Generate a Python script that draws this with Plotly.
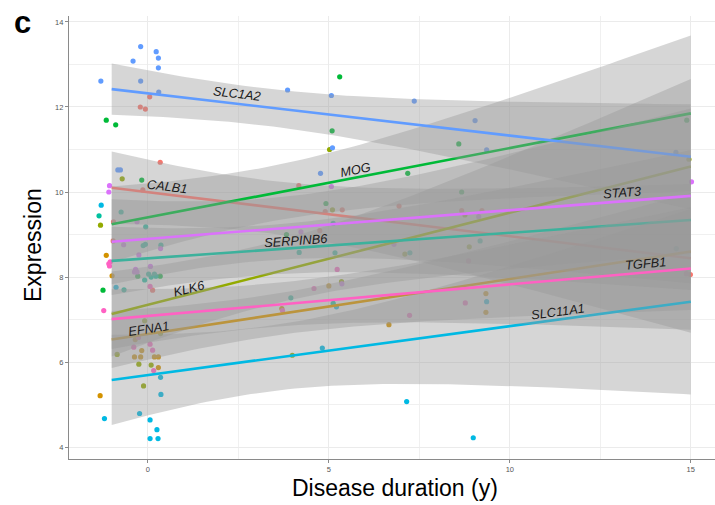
import numpy as np
import plotly.graph_objects as go

# ---------------- data ----------------
genes = ["CALB1", "EFNA1", "KLK6", "MOG", "SERPINB6", "SLC11A1", "SLC1A2", "STAT3", "TGFB1"]
colors = ["#F8766D", "#D39200", "#93AA00", "#00BA38", "#00C19F", "#00B9E3", "#619CFF", "#DB72FB", "#FF61C3"]

calb1_x = [0.05, -0.21, -0.07, 0.34, -0.14, -0.95, -0.96, 0.13, 4.17, 5.37, 4.9, 4.75, 6.94, 8.67, 9.23, 14.99]
calb1_y = [12.24, 12.0, 11.95, 10.70, 10.05, 9.30, 8.85, 7.69, 10.15, 9.58, 9.54, 9.09, 9.67, 9.56, 9.56, 8.06]

efna1_x = [-1.15, -0.99, -0.35, -0.17, -0.37, -0.2, 0.18, 0.29, 0.29, -1.32, 5.0, 3.7, 9.34, 9.34, 6.66]
efna1_y = [8.51, 8.03, 6.53, 6.27, 6.12, 6.12, 6.12, 6.12, 5.87, 5.21, 7.79, 7.26, 7.61, 7.17, 6.88]

klk6_x = [-0.71, -1.31, -0.09, 0.35, -0.85, -0.25, 0.09, -0.12, 5.02, 5.1, 5.35, 3.99, 7.1, 8.88, 8.76, 14.95]
klk6_y = [10.31, 9.22, 6.97, 6.67, 6.18, 5.95, 5.93, 5.44, 11.0, 9.58, 7.89, 6.16, 8.54, 8.71, 9.46, 10.77]

mog_x = [-1.15, -0.89, -0.17, -0.28, 0.34, -1.24, 5.30, 5.09, 4.92, 3.83, 7.18, 8.59, 8.67, 14.89]
mog_y = [11.69, 11.58, 10.28, 8.02, 8.02, 7.69, 12.71, 11.44, 9.73, 9.0, 10.44, 11.13, 10.0, 11.69]

serpinb6_x = [-1.35, -0.74, -0.06, -0.13, -0.07, 0.36, -0.09, 0.02, 0.09, 0.18, 0.22, -0.66,
              4.18, 5.17, 5.12, 3.95, 5.12, 7.24, 9.18, 14.6]
serpinb6_y = [9.44, 9.53, 9.18, 8.74, 8.77, 8.75, 7.93, 8.07, 8.0, 8.07, 8.02, 7.70,
              8.58, 8.57, 9.26, 7.51, 7.38, 8.57, 8.85, 8.67]

slc11a1_x = [-1.29, -0.88, 0.35, 0.36, -1.2, -0.23, 0.06, 0.25, 0.06, 0.28, 4.82, 5.21, 9.36, 7.15, 8.99]
slc11a1_y = [9.69, 7.76, 5.64, 5.24, 4.67, 4.79, 4.64, 4.41, 4.2, 4.2, 6.33, 7.3, 7.42, 5.07, 4.22]

slc1a2_x = [-0.2, 0.23, 0.29, -0.41, 0.29, -1.30, -0.2, 0.30, -0.83, -0.76, 3.86, 5.07, 5.1, 4.77,
            7.36, 9.04, 9.36, 14.59]
slc1a2_y = [13.42, 13.30, 13.15, 13.08, 12.92, 12.61, 12.61, 12.35, 10.52, 10.52, 12.4, 12.27, 11.04,
            10.44, 12.14, 11.68, 10.99, 10.93]

stat3_x = [-1.06, -1.08, -0.3, -0.67, 0.35, -0.25, -0.34, -0.37, -0.3, 0.07, 5.07, 4.23, 5.36, 6.8, 9.14, 15.02]
stat3_y = [10.15, 10.0, 9.3, 8.76, 8.67, 8.52, 8.18, 8.12, 8.12, 8.25, 10.13, 9.06, 7.84, 8.77, 9.42, 10.24]

tgfb1_x = [-1.04, -1.08, -1.06, 0.06, -1.22, -0.26, 0.06, -0.39, 0.13, 0.16, 5.23, 4.59, 3.72, 8.86, 8.77, 7.23, 14.88]
tgfb1_y = [8.36, 8.31, 8.26, 7.78, 7.21, 6.58, 6.42, 6.35, 6.28, 5.80, 8.18, 7.73, 7.21, 8.38, 7.39, 7.10, 8.08]

points_x = [calb1_x, efna1_x, klk6_x, mog_x, serpinb6_x, slc11a1_x, slc1a2_x, stat3_x, tgfb1_x]
points_y = [calb1_y, efna1_y, klk6_y, mog_y, serpinb6_y, slc11a1_y, slc1a2_y, stat3_y, tgfb1_y]

# fitted lines (value at start / end of the duration range) and CI half-width at start
fit_x_start = -1.0
fit_x_end = 15.0
fit_y_start = [10.10, 6.53, 7.13, 9.24, 8.38, 5.58, 12.42, 8.83, 7.01]
fit_y_end = [8.44, 8.60, 10.60, 11.85, 9.34, 7.42, 10.83, 9.91, 8.20]
ci_half_start = [0.85, 0.67, 1.0, 0.89, 0.8, 1.06, 0.6, 1.0, 0.7]

# gene label positions
label_x = [0.55, 0.03, 1.13, 5.75, 4.1, 11.33, 2.46, 13.1, 13.76]
label_y = [10.14, 6.8, 7.74, 10.54, 8.87, 7.18, 12.31, 10.0, 8.31]

x_ticks = [0, 5, 10, 15]
x_minor = [2.5, 7.5, 12.5]
y_ticks = [4, 6, 8, 10, 12, 14]
y_minor = [5, 7, 9, 11, 13]

# ---------------- figure ----------------
W, H = 715, 505
ml, mr, mt, mb = 69, 0, 16, 46
xr = [-2.18, 15.67]
yr = [3.72, 14.14]
px_per_x = (W - ml - mr) / (xr[1] - xr[0])
px_per_y = (H - mt - mb) / (yr[1] - yr[0])

# confidence-band shape shared by all genes (same sample durations)
ci_centre, ci_k = 3.2, 0.05
def shape(x):
    return np.sqrt(1 + ci_k * (x - ci_centre) ** 2)

fig = go.Figure()

for g, c, xs, ys in zip(genes, colors, points_x, points_y):
    fig.add_trace(go.Scatter(x=xs, y=ys, mode="markers", name=g,
                             marker=dict(color=c, size=5.2, line=dict(width=0)),
                             showlegend=False, hoverinfo="skip"))

xx = np.linspace(fit_x_start, fit_x_end, 80)
for g, c, y0, y1, w0 in zip(genes, colors, fit_y_start, fit_y_end, ci_half_start):
    slope = (y1 - y0) / (fit_x_end - fit_x_start)
    yy = y0 + slope * (xx - fit_x_start)
    w = w0 * shape(xx) / shape(fit_x_start)
    fig.add_trace(go.Scatter(x=np.concatenate([xx, xx[::-1]]),
                             y=np.concatenate([yy + w, (yy - w)[::-1]]),
                             fill="toself", fillcolor="rgba(153,153,153,0.4)",
                             line=dict(width=0), mode="lines",
                             showlegend=False, hoverinfo="skip"))
    fig.add_trace(go.Scatter(x=[fit_x_start, fit_x_end], y=[y0, y1], mode="lines",
                             line=dict(color=c, width=2.6), showlegend=False,
                             hoverinfo="skip"))

annotations = []
for g, lx, ly, y0, y1 in zip(genes, label_x, label_y, fit_y_start, fit_y_end):
    slope = (y1 - y0) / (fit_x_end - fit_x_start)
    ang = -np.degrees(np.arctan(slope * px_per_y / px_per_x))
    annotations.append(dict(x=lx, y=ly, xref="x", yref="y", text="<i>%s</i>" % g,
                            showarrow=False, textangle=ang,
                            font=dict(size=12.8, color="#1a1a1a",
                                      family="Liberation Sans, Arial, sans-serif")))

annotations.append(dict(x=(22 - ml) / (W - ml - mr), y=(H - mb - 22) / (H - mt - mb),
                        xref="paper", yref="paper", text="<b>c</b>", showarrow=False,
                        xanchor="center", yanchor="middle",
                        font=dict(size=31, color="black",
                                  family="Liberation Sans, Arial, sans-serif")))
annotations.append(dict(x=(395 - ml) / (W - ml - mr), y=(H - mb - 488) / (H - mt - mb),
                        xref="paper", yref="paper", text="Disease duration (y)",
                        showarrow=False, xanchor="center", yanchor="middle",
                        font=dict(size=23, color="black",
                                  family="Liberation Sans, Arial, sans-serif")))
annotations.append(dict(x=(33 - ml) / (W - ml - mr), y=(H - mb - 245) / (H - mt - mb),
                        xref="paper", yref="paper", text="Expression", textangle=-90,
                        showarrow=False, xanchor="center", yanchor="middle",
                        font=dict(size=23, color="black",
                                  family="Liberation Sans, Arial, sans-serif")))

axis_common = dict(showgrid=True, gridcolor="#ebebeb", gridwidth=1, zeroline=False,
                   showline=True, linecolor="#8a8a8a", linewidth=1.2,
                   ticks="outside", ticklen=3, tickcolor="#8a8a8a",
                   tickfont=dict(size=7.5, color="#555555",
                                 family="Liberation Sans, Arial, sans-serif"))

fig.update_layout(
    width=W, height=H,
    margin=dict(l=ml, r=mr, t=mt, b=mb),
    paper_bgcolor="white", plot_bgcolor="white",
    xaxis=dict(range=xr, tickvals=x_ticks,
               minor=dict(tickvals=x_minor, showgrid=True, gridcolor="#f0f0f0", ticks=""),
               **axis_common),
    yaxis=dict(range=yr, tickvals=y_ticks,
               minor=dict(tickvals=y_minor, showgrid=True, gridcolor="#f0f0f0", ticks=""),
               **axis_common),
    annotations=annotations,
    showlegend=False,
)

fig.write_html("out.html", config={"displayModeBar": False},
               post_script="document.body.style.margin='0';document.body.style.padding='0';")
